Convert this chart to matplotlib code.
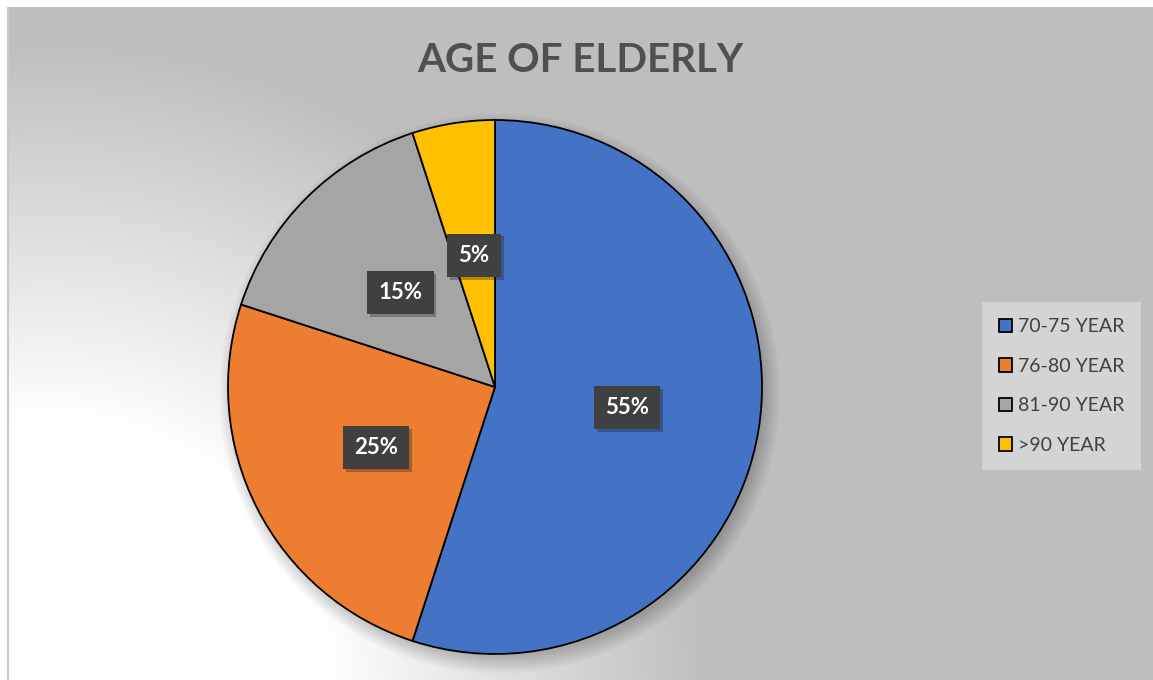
import numpy as np
import matplotlib
matplotlib.use("Agg")
import matplotlib.pyplot as plt
from matplotlib import patheffects

# chart data
categories = ["70-75 YEAR", "76-80 YEAR", "81-90 YEAR", ">90 YEAR"]
shares = [55, 25, 15, 5]
colors = ["#4472C4", "#ED7D31", "#A5A5A5", "#FFC000"]
title = "AGE OF ELDERLY"

W, H = 1153, 680
plt.rcParams['font.family'] = ['Lato', 'DejaVu Sans']

fig = plt.figure(figsize=(W / 100, H / 100), dpi=100)
fig.patch.set_facecolor("white")

# background: radial gradient from lower left + soft shadow under the pie
bg_ax = fig.add_axes([7 / W, 0, (W - 7) / W, (H - 7) / H])
bw, bh = W - 7, H - 7
yy, xx = np.mgrid[0:bh, 0:bw]
d = np.hypot(xx - 40, yy - (bh + 20))
grad = 255 - np.clip((d - 280) / (380), 0, 1) * 65
cx, cy, r = 495 - 7 + 4, 387 - 7 + 6, 267
dc = np.hypot(xx - cx, yy - cy)
shadow = 1 - 0.22 * np.clip(1 - (dc - r + 4) / 18, 0, 1)
img = np.clip(grad * shadow, 0, 255) / 255
bg_ax.imshow(np.dstack([img, img, img]), extent=[0, bw, bh, 0], aspect='auto')
bg_ax.axvline(0.5, color="#c8c8c8", lw=1.5)
bg_ax.set_axis_off()

# pie
ax = fig.add_axes([(495 - 267) / W, (H - 387 - 267) / H, 534 / W, 534 / H])
ax.set_facecolor("none")
wedges, texts, autotexts = ax.pie(
    shares, colors=colors, startangle=90, counterclock=False,
    autopct="%1.0f%%", pctdistance=0.5,
    wedgeprops=dict(edgecolor="black", linewidth=1.3),
    textprops=dict(color="white", fontsize=16, fontweight="bold"))
for t in autotexts:
    t.set_bbox(dict(boxstyle="square,pad=0.5", facecolor="#404040",
                    edgecolor="none"))
    t.get_bbox_patch().set_path_effects(
        [patheffects.SimplePatchShadow(offset=(2, -2), alpha=0.3),
         patheffects.Normal()])
ax.set_xlim(-1, 1)
ax.set_ylim(-1, 1)

fig.text(580 / W, 1 - 60 / H, title, ha="center", va="center",
         fontsize=29, fontweight="bold", color="#505050")

leg = fig.legend(wedges, categories, loc="center left",
                 bbox_to_anchor=(982 / W, 1 - 386 / H),
                 frameon=True, fancybox=False, fontsize=14,
                 handlelength=0.7, handleheight=0.7, handletextpad=0.3,
                 labelspacing=1.15, borderpad=0.85, borderaxespad=0)
leg.get_frame().set_facecolor("#d4d4d4")
leg.get_frame().set_edgecolor("none")
leg.get_frame().set_alpha(1)
for t in leg.get_texts():
    t.set_color("#404040")

fig.savefig("out.png", dpi=100)
